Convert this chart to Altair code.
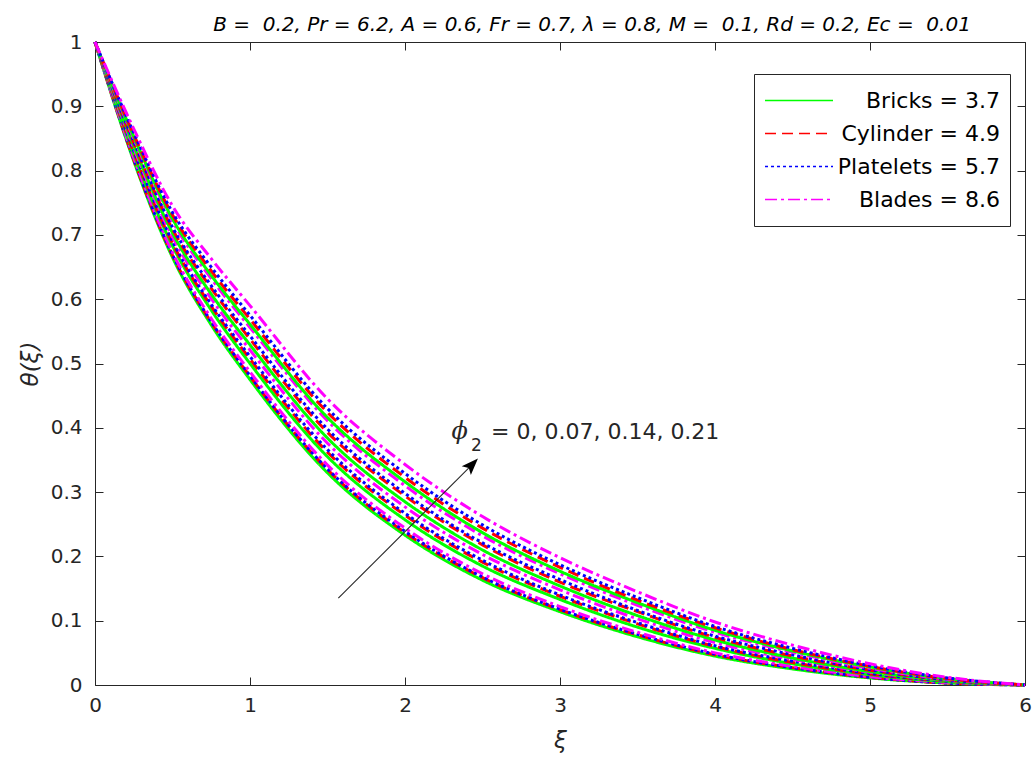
import altair as alt
import pandas as pd

# ---------------- data ----------------
xi = [0, 0.25, 0.5, 0.75, 1, 1.5, 2, 2.5, 3, 3.5, 4, 4.5, 5, 5.5, 6]
phi_values = ["0", "0.07", "0.14", "0.21"]
shape_names = ["Bricks = 3.7", "Cylinder = 4.9", "Platelets = 5.7", "Blades = 8.6"]

# one row per phi_2 value (0, 0.07, 0.14, 0.21)
bricks = [
    [1, 0.815, 0.665, 0.560, 0.475, 0.330, 0.233, 0.163, 0.114, 0.075, 0.045, 0.025, 0.011, 0.003, 0],
    [1, 0.826, 0.683, 0.583, 0.500, 0.355, 0.257, 0.185, 0.133, 0.090, 0.057, 0.033, 0.016, 0.005, 0],
    [1, 0.839, 0.703, 0.608, 0.529, 0.384, 0.285, 0.210, 0.154, 0.108, 0.070, 0.042, 0.021, 0.007, 0],
    [1, 0.853, 0.725, 0.637, 0.561, 0.416, 0.316, 0.237, 0.177, 0.128, 0.085, 0.053, 0.028, 0.010, 0],
]
cylinder = [
    [1, 0.817, 0.668, 0.564, 0.480, 0.335, 0.237, 0.167, 0.117, 0.078, 0.047, 0.027, 0.012, 0.003, 0],
    [1, 0.829, 0.687, 0.589, 0.507, 0.362, 0.264, 0.191, 0.138, 0.095, 0.060, 0.035, 0.017, 0.006, 0],
    [1, 0.843, 0.709, 0.617, 0.538, 0.393, 0.294, 0.218, 0.160, 0.114, 0.074, 0.045, 0.023, 0.008, 0],
    [1, 0.856, 0.731, 0.644, 0.569, 0.424, 0.323, 0.244, 0.183, 0.132, 0.089, 0.055, 0.029, 0.010, 0],
]
platelets = [
    [1, 0.818, 0.669, 0.565, 0.481, 0.336, 0.239, 0.168, 0.118, 0.079, 0.048, 0.027, 0.012, 0.003, 0],
    [1, 0.831, 0.690, 0.592, 0.511, 0.366, 0.267, 0.194, 0.140, 0.097, 0.061, 0.037, 0.018, 0.006, 0],
    [1, 0.845, 0.712, 0.621, 0.543, 0.398, 0.298, 0.221, 0.164, 0.116, 0.076, 0.047, 0.024, 0.008, 0],
    [1, 0.859, 0.735, 0.650, 0.575, 0.430, 0.329, 0.249, 0.187, 0.136, 0.091, 0.057, 0.030, 0.011, 0],
]
blades = [
    [1, 0.820, 0.673, 0.570, 0.487, 0.342, 0.244, 0.173, 0.122, 0.082, 0.050, 0.029, 0.013, 0.004, 0],
    [1, 0.835, 0.697, 0.601, 0.521, 0.376, 0.277, 0.203, 0.148, 0.103, 0.066, 0.040, 0.020, 0.007, 0],
    [1, 0.850, 0.721, 0.632, 0.556, 0.411, 0.310, 0.232, 0.173, 0.124, 0.082, 0.051, 0.026, 0.009, 0],
    [1, 0.865, 0.745, 0.663, 0.590, 0.445, 0.343, 0.262, 0.198, 0.145, 0.098, 0.062, 0.033, 0.012, 0],
]

x_ticks = [0, 1, 2, 3, 4, 5, 6]
y_ticks = [0, 0.1, 0.2, 0.3, 0.4, 0.5, 0.6, 0.7, 0.8, 0.9, 1]

# annotation (arrow and label) in data coordinates
arrow_start = [1.570, 0.135]
arrow_end = [2.430, 0.342]
ann_x = [2.300, 2.425, 2.555]
ann_y = [0.394, 0.372, 0.394]
ann_text = ["ϕ", "2", "= 0, 0.07, 0.14, 0.21"]

title_text = ("B =\u00a0 0.2, Pr = 6.2, A = 0.6, Fr = 0.7, λ = 0.8, "
              "M =\u00a0 0.1, Rd = 0.2, Ec =\u00a0 0.01")

colors = ["#00FF00", "#FF0000", "#0000FF", "#FF00FF"]
dashes = [[1, 0], [11, 6], [3, 3], [12, 4, 3, 4]]

# ---------------- build tables ----------------
rows = []
for i, phi in enumerate(phi_values):
    for s, arr in zip(shape_names, [bricks, cylinder, platelets, blades]):
        for x, v in zip(xi, arr[i]):
            rows.append({"xi": x, "theta": v, "shape": s, "phi": phi,
                         "curve": f"{i}-{s}"})
df = pd.DataFrame(rows)

arrow_df = pd.DataFrame({"x": [arrow_start[0]], "y": [arrow_start[1]],
                         "x2": [arrow_end[0]], "y2": [arrow_end[1]]})
head_df = pd.DataFrame({"x": [arrow_end[0]], "y": [arrow_end[1]]})
ann_df = pd.DataFrame({"x": ann_x, "y": ann_y, "t": ann_text})

INK = "#262626"
W, H = 930, 643
FONT = "DejaVu Sans"

xscale = alt.Scale(domain=[0, 6], nice=False, zero=False)
yscale = alt.Scale(domain=[0, 1], nice=False, zero=False)

legend = alt.Legend(
    title=None, orient="none", legendX=659, legendY=32,
    fillColor="white", strokeColor=INK, padding=10,
    symbolType="stroke", symbolSize=4624, symbolStrokeWidth=1.6,
    clipHeight=33, rowPadding=0,
    labelFont=FONT, labelFontSize=22, labelColor="black",
    labelAlign="right", labelOffset=166, labelLimit=400,
)

lines = alt.Chart(df).mark_line(strokeWidth=3, interpolate="monotone").encode(
    x=alt.X("xi:Q", scale=xscale, axis=alt.Axis(
        orient="bottom", values=x_ticks, ticks=False, domain=False, grid=False,
        labelFlush=False,
        labelFont=FONT, labelFontSize=20, labelColor=INK, labelPadding=10,
        title="ξ", titleFont=FONT, titleFontSize=23, titleFontStyle="italic",
        titleFontWeight="normal", titleColor=INK, titlePadding=14)),
    y=alt.Y("theta:Q", scale=yscale, axis=alt.Axis(
        orient="left", values=y_ticks, format=".1~f", ticks=False, domain=False,
        grid=False, labelFlush=False, labelFont=FONT, labelFontSize=20,
        labelColor=INK, labelPadding=13, title="θ(ξ)", titleFont=FONT,
        titleFontSize=23, titleFontStyle="italic", titleFontWeight="normal",
        titleColor=INK, titlePadding=8)),
    color=alt.Color("shape:N", scale=alt.Scale(domain=shape_names, range=colors),
                    legend=legend),
    strokeDash=alt.StrokeDash("shape:N", scale=alt.Scale(domain=shape_names, range=dashes),
                              legend=legend),
    detail="curve:N",
)

tick_common = dict(labels=False, domain=False, grid=False, tickSize=8,
                   tickColor=INK, tickWidth=1, title=None)

ticks_a = alt.Chart(df).mark_point(opacity=0).encode(
    x=alt.X("xi:Q", scale=xscale,
            axis=alt.Axis(orient="top", offset=-H, values=x_ticks, **tick_common)),
    y=alt.Y("theta:Q", scale=yscale,
            axis=alt.Axis(orient="right", offset=-W, values=y_ticks, **tick_common)),
)
ticks_b = alt.Chart(df).mark_point(opacity=0).encode(
    x=alt.X("xi:Q", scale=xscale,
            axis=alt.Axis(orient="bottom", offset=-H, values=x_ticks, **tick_common)),
    y=alt.Y("theta:Q", scale=yscale,
            axis=alt.Axis(orient="left", offset=-W, values=y_ticks, **tick_common)),
)

arrow = alt.Chart(arrow_df).mark_rule(color=INK, strokeWidth=1.1).encode(
    x=alt.X("x:Q", scale=xscale, axis=None),
    y=alt.Y("y:Q", scale=yscale, axis=None),
    x2="x2:Q", y2="y2:Q",
)
head = alt.Chart(head_df).mark_point(
    shape="M0,-1L0.7,0.85L0,0.45L-0.7,0.85Z", size=330, filled=True,
    color="black", opacity=1, angle=44, strokeWidth=0,
).encode(
    x=alt.X("x:Q", scale=xscale, axis=None),
    y=alt.Y("y:Q", scale=yscale, axis=None),
)

ann_phi = alt.Chart(ann_df.iloc[[0]]).mark_text(
    font="DejaVu Serif", fontStyle="italic", fontSize=24, align="left",
    baseline="middle", color=INK,
).encode(x=alt.X("x:Q", scale=xscale, axis=None),
         y=alt.Y("y:Q", scale=yscale, axis=None), text="t:N")
ann_sub = alt.Chart(ann_df.iloc[[1]]).mark_text(
    font=FONT, fontSize=17, align="left", baseline="middle", color=INK,
).encode(x=alt.X("x:Q", scale=xscale, axis=None),
         y=alt.Y("y:Q", scale=yscale, axis=None), text="t:N")
ann_rest = alt.Chart(ann_df.iloc[[2]]).mark_text(
    font=FONT, fontSize=22, align="left", baseline="middle", color=INK,
).encode(x=alt.X("x:Q", scale=xscale, axis=None),
         y=alt.Y("y:Q", scale=yscale, axis=None), text="t:N")

chart = alt.layer(
    lines, ticks_a, ticks_b, arrow, head, ann_phi, ann_sub, ann_rest
).resolve_axis(x="independent", y="independent").properties(
    width=W, height=H,
    title=alt.TitleParams(text=title_text, font=FONT, fontSize=20,
                          fontStyle="italic", fontWeight="normal", color="black",
                          anchor="middle", dx=32, offset=-19, baseline="alphabetic",
                          frame="group"),
    padding={"left": 95, "top": 42, "right": 10, "bottom": 78},
    autosize=alt.AutoSizeParams(type="none"),
    background="white",
).configure_view(stroke=INK, strokeWidth=1)

chart.save("out.html", embed_options={"renderer": "svg", "actions": False})
